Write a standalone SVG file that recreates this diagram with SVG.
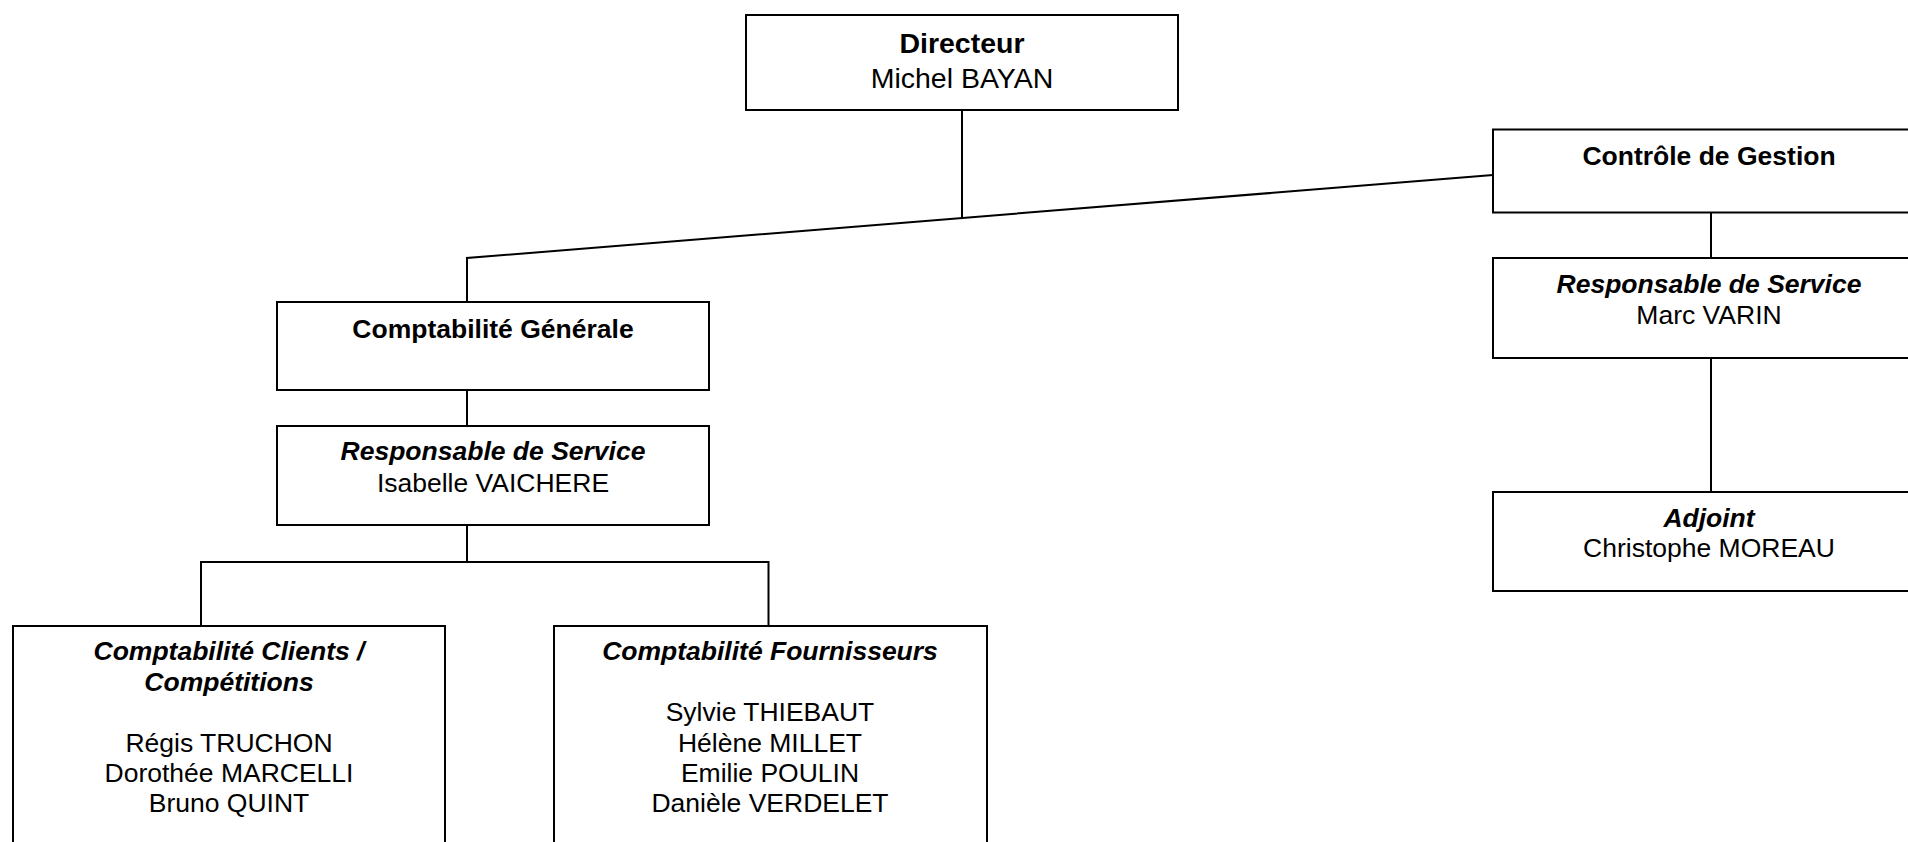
<svg xmlns="http://www.w3.org/2000/svg" width="1908" height="842" viewBox="0 0 1908 842">
<style>
rect.box{fill:#fff;stroke:#000;stroke-width:2}
.con{fill:none;stroke:#000;stroke-width:2}
text{font-family:"Liberation Sans",Arial,Helvetica,sans-serif;font-size:26.5px;fill:#000;text-anchor:middle}
.b{font-weight:bold}
.bi{font-weight:bold;font-style:italic}
.big{font-size:28.5px}
</style>
<rect width="1908" height="842" fill="#fff"/>
<g id="connectors">
<line class="con" x1="962" y1="110" x2="962" y2="218"/>
<polyline class="con" points="467,302 467,258 1493,175"/>
<line class="con" x1="467" y1="390" x2="467" y2="426"/>
<polyline class="con" points="201,626 201,562 768.5,562 768.5,626"/>
<line class="con" x1="467" y1="525" x2="467" y2="562"/>
<line class="con" x1="1711" y1="212.5" x2="1711" y2="258"/>
<line class="con" x1="1711" y1="358" x2="1711" y2="492"/>
</g>
<g id="directeur">
<rect class="box" x="746" y="15" width="432" height="95"/>
<text class="b big" x="962" y="53">Directeur</text>
<text class="big" x="962" y="87.5">Michel BAYAN</text>
</g>
<g id="controle">
<rect class="box" x="1493" y="129.5" width="432" height="83"/>
<text class="b" x="1709" y="165">Contrôle de Gestion</text>
</g>
<g id="resp-controle">
<rect class="box" x="1493" y="258" width="432" height="100"/>
<text class="bi" x="1709" y="293">Responsable de Service</text>
<text x="1709" y="323.5">Marc VARIN</text>
</g>
<g id="adjoint">
<rect class="box" x="1493" y="492" width="432" height="99"/>
<text class="bi" x="1709" y="527">Adjoint</text>
<text x="1709" y="557">Christophe MOREAU</text>
</g>
<g id="compta-generale">
<rect class="box" x="277" y="302" width="432" height="88"/>
<text class="b" x="493" y="338">Comptabilité Générale</text>
</g>
<g id="resp-compta">
<rect class="box" x="277" y="426" width="432" height="99"/>
<text class="bi" x="493" y="460">Responsable de Service</text>
<text x="493" y="491.5">Isabelle VAICHERE</text>
</g>
<g id="compta-clients">
<rect class="box" x="13" y="626" width="432" height="300"/>
<text class="bi" x="229" y="660">Comptabilité Clients /</text>
<text class="bi" x="229" y="690.5">Compétitions</text>
<text x="229" y="751.5">Régis TRUCHON</text>
<text x="229" y="782">Dorothée MARCELLI</text>
<text x="229" y="812">Bruno QUINT</text>
</g>
<g id="compta-fournisseurs">
<rect class="box" x="554" y="626" width="433" height="300"/>
<text class="bi" x="770" y="660">Comptabilité Fournisseurs</text>
<text x="770" y="721">Sylvie THIEBAUT</text>
<text x="770" y="751.5">Hélène MILLET</text>
<text x="770" y="782">Emilie POULIN</text>
<text x="770" y="812">Danièle VERDELET</text>
</g>
</svg>
